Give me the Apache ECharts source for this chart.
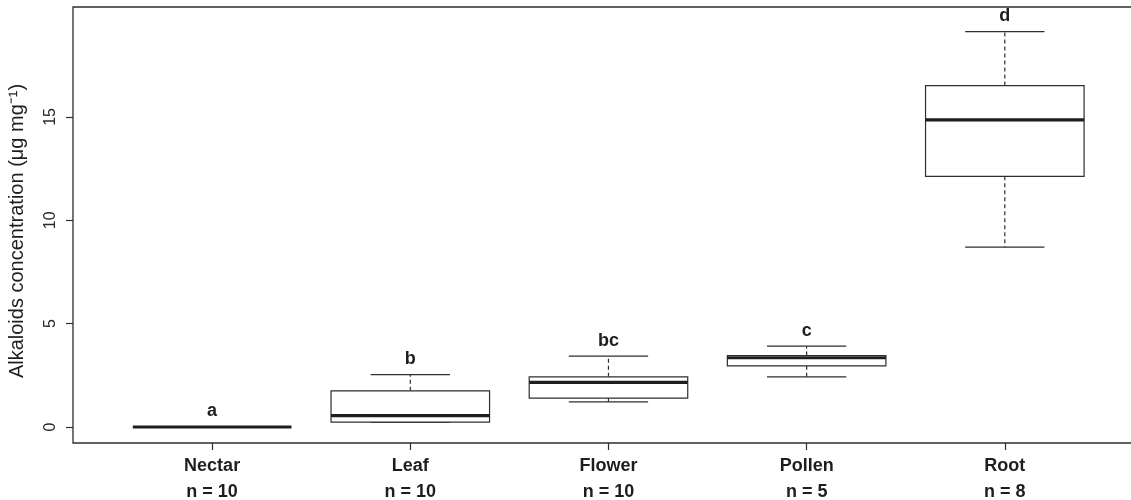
<!DOCTYPE html>
<html>
<head>
<meta charset="utf-8">
<script src="https://cdn.jsdelivr.net/npm/echarts@6/dist/echarts.min.js"></script>
<style>
html,body{margin:0;padding:0;background:#fff;}
#chart{width:1131px;height:500px;}
</style>
</head>
<body>
<div id="chart"></div>
<script>
// ---- data ----
const categories   = ['Nectar', 'Leaf', 'Flower', 'Pollen', 'Root'];
const sampleSizes  = [10, 10, 10, 5, 8];
const whiskerLow   = [0, 0.24, 1.22, 2.43, 8.70];
const quartile1    = [0, 0.24, 1.40, 2.96, 12.13];
const medians      = [0, 0.55, 2.16, 3.35, 14.86];
const quartile3    = [0, 1.75, 2.43, 3.46, 16.52];
const whiskerHigh  = [0, 2.53, 3.43, 3.91, 19.13];
const letters      = ['a', 'b', 'bc', 'c', 'd'];
const yTicks       = [0, 5, 10, 15];
const xTicks       = [1, 2, 3, 4, 5];

const FONT = "'Liberation Sans', Arial, Helvetica, sans-serif";
const INK = '#2e2e2e';

const boxData = categories.map((c, i) => [i + 1, whiskerLow[i], quartile1[i], medians[i], quartile3[i], whiskerHigh[i], i]);

const chart = echarts.init(document.getElementById('chart'), null, {renderer: 'canvas'});

function renderBox(params, api) {
  const x = api.value(0);
  const lo = api.value(1), q1 = api.value(2), md = api.value(3), q3 = api.value(4), hi = api.value(5);
  const idx = api.value(6);
  const P = v => api.coord([x, v]);
  const boxHalf = api.size([0.8, 0])[0] / 2;
  const capHalf = api.size([0.4, 0])[0] / 2;
  const cx = P(md)[0];
  const yLo = P(lo)[1], yQ1 = P(q1)[1], yMd = P(md)[1], yQ3 = P(q3)[1], yHi = P(hi)[1];
  const thin = {stroke: INK, lineWidth: 1.2, fill: null};
  const dashed = {stroke: INK, lineWidth: 1.2, lineDash: [4, 3], fill: null};
  const children = [];
  if (yHi < yQ3) children.push({type: 'line', shape: {x1: cx, y1: yQ3, x2: cx, y2: yHi}, style: dashed});
  if (yLo > yQ1) children.push({type: 'line', shape: {x1: cx, y1: yQ1, x2: cx, y2: yLo}, style: dashed});
  children.push({type: 'line', shape: {x1: cx - capHalf, y1: yHi, x2: cx + capHalf, y2: yHi}, style: thin});
  children.push({type: 'line', shape: {x1: cx - capHalf, y1: yLo, x2: cx + capHalf, y2: yLo}, style: thin});
  children.push({type: 'rect', shape: {x: cx - boxHalf, y: yQ3, width: boxHalf * 2, height: yQ1 - yQ3},
                 style: {stroke: INK, lineWidth: 1.2, fill: '#ffffff'}});
  children.push({type: 'line', shape: {x1: cx - boxHalf, y1: yMd, x2: cx + boxHalf, y2: yMd},
                 style: {stroke: '#1e1e1e', lineWidth: 3.2}});
  const tp = P(hi + 0.75);
  children.push({type: 'text', x: cx, y: tp[1],
                 style: {text: letters[idx], fill: '#1e1e1e', font: 'bold 18px ' + FONT,
                         textAlign: 'center', textVerticalAlign: 'middle'}});
  return {type: 'group', children: children};
}

const option = {
  animation: false,
  backgroundColor: '#ffffff',
  grid: {left: 73, right: -6, top: 7, bottom: 57, outerBoundsMode: 'none', containLabel: false,
         show: true, borderColor: INK, borderWidth: 1.3, backgroundColor: 'transparent'},
  xAxis: {
    type: 'value', min: 0.298, max: 5.667,
    splitLine: {show: false},
    axisLine: {show: false, onZero: false},
    axisTick: {show: true, customValues: xTicks, length: 7, lineStyle: {color: INK, width: 1.2}},
    axisLabel: {
      customValues: xTicks,
      margin: 10,
      formatter: v => categories[v - 1] + '\nn = ' + sampleSizes[v - 1],
      fontFamily: FONT, fontSize: 18, fontWeight: 'bold', color: '#1e1e1e', lineHeight: 26
    }
  },
  yAxis: {
    type: 'value', min: -0.774, max: 20.32,
    name: 'Alkaloids concentration (μg mg\u207B\u00B9)',
    nameLocation: 'middle', nameGap: 46, nameRotate: 90,
    nameTextStyle: {fontFamily: FONT, fontSize: 20, color: '#1e1e1e', padding: [0, 12, 0, 0]},
    splitLine: {show: false},
    axisLine: {show: false, onZero: false},
    axisTick: {show: true, customValues: yTicks, length: 7, lineStyle: {color: INK, width: 1.2}},
    axisLabel: {customValues: yTicks, rotate: 90, margin: 14, fontFamily: FONT, fontSize: 16, color: '#2a2a2a'}
  },
  series: [{
    type: 'custom',
    renderItem: renderBox,
    data: boxData,
    encode: {x: 0, y: [1, 2, 3, 4, 5]},
    clip: false
  }]
};
chart.setOption(option);
</script>
</body>
</html>
